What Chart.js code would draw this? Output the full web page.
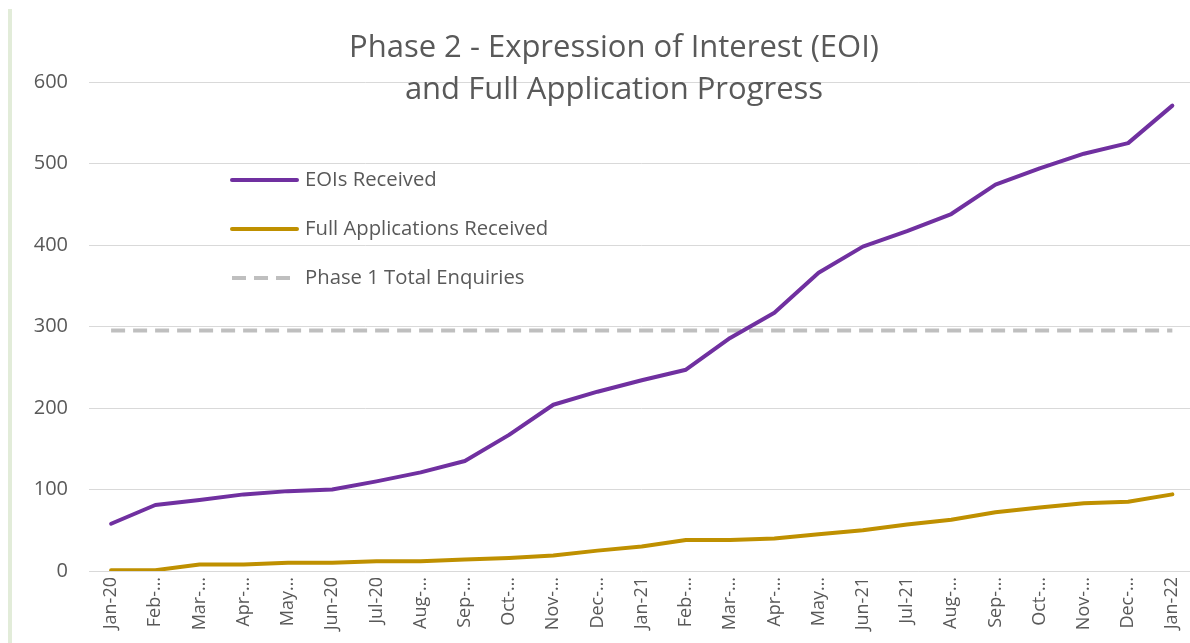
<!DOCTYPE html>
<html>
<head>
<meta charset="utf-8">
<script src="https://cdn.jsdelivr.net/npm/chart.js@4"></script>
<style>
  html, body { margin: 0; padding: 0; background: #fff; overflow: hidden; }
  #wrap { position: relative; width: 1200px; height: 700px; }
  #edge { position: absolute; left: 8px; top: 9px; width: 4px; height: 640px; background: #e2ecd9; }
</style>
</head>
<body>
<div id="wrap"><div id="edge"></div><canvas id="chart"></canvas></div>
<script>
// month labels as they show on the axis (long ones are cut off)
const months = ['Jan-20', 'Feb-…', 'Mar-…', 'Apr-…', 'May…', 'Jun-20', 'Jul-20', 'Aug-…', 'Sep-…', 'Oct-…', 'Nov-…', 'Dec-…',
  'Jan-21', 'Feb-…', 'Mar-…', 'Apr-…', 'May…', 'Jun-21', 'Jul-21', 'Aug-…', 'Sep-…', 'Oct-…', 'Nov-…', 'Dec-…', 'Jan-22'];
const eois = [58, 81, 87, 94, 98, 100, 110, 121, 135, 167, 204, 220, 234, 247, 286, 317, 366, 398, 417, 438, 474, 494, 512, 525, 571];
const fullApps = [1, 1, 8, 8, 10, 10, 12, 12, 14, 16, 19, 25, 30, 38, 38, 40, 45, 50, 57, 63, 72, 78, 83, 85, 94];
const phase1Total = months.map(() => 295);
const titleLines = ['Phase 2 - Expression of Interest (EOI)', 'and Full Application Progress'];

const FONT = '"Open Sans", "Liberation Sans", sans-serif';
const TEXT = '#595959';

// title and legend sit inside the plot, so draw them ourselves
const overlay = {
  id: 'overlay',
  afterDraw(chart) {
    const ctx = chart.ctx;
    ctx.save();
    ctx.fillStyle = TEXT;
    ctx.textAlign = 'center';
    ctx.textBaseline = 'middle';
    ctx.font = '31px ' + FONT;
    titleLines.forEach((t, i) => ctx.fillText(t, 614, 48 + i * 42));

    ctx.textAlign = 'left';
    ctx.font = '20.3px ' + FONT;
    chart.data.datasets.forEach((ds, i) => {
      const y = 180 + i * 49;
      ctx.beginPath();
      ctx.setLineDash(ds.borderDash || []);
      ctx.lineWidth = ds.borderWidth;
      ctx.strokeStyle = ds.borderColor;
      ctx.lineCap = ds.borderDash ? 'butt' : 'round';
      ctx.moveTo(232, y);
      ctx.lineTo(297, y);
      ctx.stroke();
      ctx.setLineDash([]);
      ctx.fillText(ds.label, 305, y);
    });
    ctx.restore();
  }
};

new Chart(document.getElementById('chart'), {
  type: 'line',
  data: {
    labels: months,
    datasets: [
      { label: 'EOIs Received', data: eois, borderColor: '#7030a0', borderWidth: 4 },
      { label: 'Full Applications Received', data: fullApps, borderColor: '#bf9000', borderWidth: 4 },
      { label: 'Phase 1 Total Enquiries', data: phase1Total, borderColor: '#bfbfbf', borderWidth: 4, borderDash: [14, 8], borderCapStyle: 'butt' }
    ]
  },
  options: {
    responsive: true,
    maintainAspectRatio: false,
    animation: false,
    layout: { padding: { top: 82, right: 3, left: 0, bottom: 0 } },
    elements: {
      point: { radius: 0 },
      line: { tension: 0, fill: false, borderCapStyle: 'round', borderJoinStyle: 'round' }
    },
    plugins: { legend: { display: false }, title: { display: false }, tooltip: { enabled: false } },
    scales: {
      x: {
        offset: true,
        grid: { display: false, drawTicks: false },
        border: { display: false },
        ticks: { autoSkip: false, maxRotation: 90, minRotation: 90, padding: 6, color: TEXT, font: { family: FONT, size: 18 } },
        afterFit(scale) { scale.height = 129; }
      },
      y: {
        min: 0, max: 600,
        ticks: { stepSize: 100, padding: 21, color: TEXT, font: { family: FONT, size: 20 } },
        grid: { color: '#d9d9d9', lineWidth: 1, drawTicks: false },
        border: { display: false },
        afterFit(scale) { scale.width = 89; }
      }
    }
  },
  plugins: [overlay]
});
</script>
</body>
</html>
